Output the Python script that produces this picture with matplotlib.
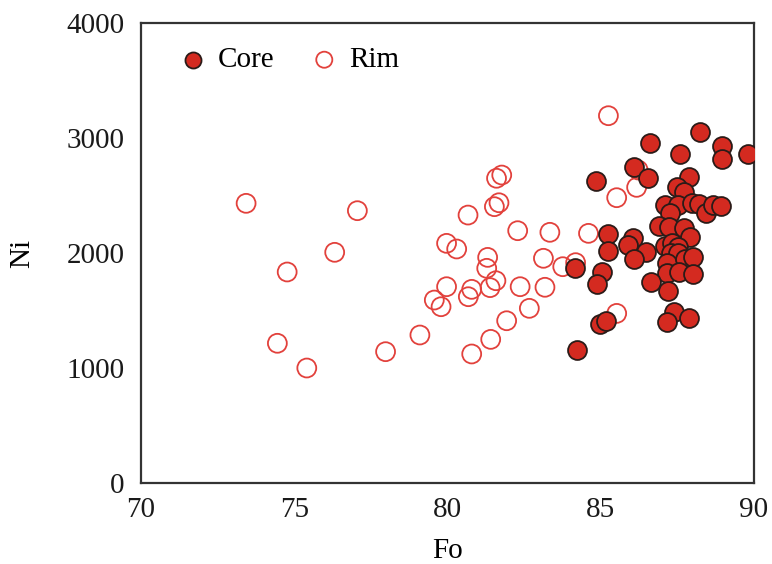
import matplotlib
matplotlib.use("Agg")
import matplotlib.pyplot as plt

plt.rcParams['font.family'] = ['Liberation Serif', 'DejaVu Serif']

# olivine cores (filled)
core_fo = [88.24, 86.61, 88.95, 88.95, 89.82, 87.57, 86.08, 86.55, 84.85, 87.88,
           87.48, 87.72, 87.10, 87.53, 87.97, 88.19, 88.43, 88.65, 88.92, 87.26,
           86.90, 87.24, 87.72, 87.91, 85.25, 86.04, 85.90, 85.25, 86.48, 87.10,
           87.32, 87.53, 87.29, 87.53, 86.08, 87.15, 87.75, 88.02, 87.15, 87.55,
           88.00, 84.16, 85.05, 84.87, 86.64, 87.20, 87.40, 87.17, 87.89, 84.98,
           85.17, 84.21]
core_ni = [3049, 2954, 2933, 2814, 2858, 2858, 2751, 2655, 2629, 2664,
           2577, 2533, 2417, 2417, 2432, 2426, 2345, 2417, 2409, 2351,
           2238, 2229, 2220, 2142, 2165, 2133, 2070, 2017, 2011, 2064,
           2090, 2055, 1997, 1997, 1945, 1910, 1945, 1963, 1823, 1838,
           1817, 1867, 1838, 1728, 1751, 1673, 1484, 1397, 1438, 1383,
           1409, 1157]

# olivine rims (open)
rim_fo = [73.43, 77.06, 76.32, 74.77, 74.45, 75.41, 77.98, 79.10, 81.60, 81.77,
          81.53, 81.68, 80.67, 82.29, 83.34, 84.60, 79.97, 80.30, 81.31, 81.28,
          83.13, 83.76, 84.18, 79.97, 79.57, 79.79, 80.79, 80.68, 81.58, 81.39,
          82.37, 83.18, 82.67, 81.93, 81.41, 80.79, 85.25, 86.22, 86.17, 85.52,
          85.52]
rim_ni = [2432, 2368, 2006, 1835, 1215, 1000, 1142, 1287, 2650, 2678,
          2403, 2437, 2330, 2194, 2180, 2171, 2084, 2035, 1962, 1867,
          1954, 1881, 1916, 1707, 1591, 1533, 1684, 1620, 1759, 1699,
          1707, 1702, 1519, 1411, 1249, 1122, 3194, 2722, 2571, 2481,
          1475]

fig = plt.figure(figsize=(7.72, 5.64), dpi=100)
ax = fig.add_axes([0.1826, 0.1436, 0.7941, 0.8156])

ax.scatter(rim_fo, rim_ni, s=185, facecolors='none', edgecolors='#e2413c',
           linewidths=1.3, label='Rim', zorder=2)
ax.scatter(core_fo, core_ni, s=185, facecolors='#d42a20', edgecolors='#2b1b18',
           linewidths=1.3, label='Core', zorder=3)

ax.set_xlim(70, 90)
ax.set_ylim(0, 4000)
ax.set_xticks([70, 75, 80, 85, 90])
ax.set_yticks([0, 1000, 2000, 3000, 4000])
ax.tick_params(length=0, labelsize=21, colors='#1a1a1a')
ax.tick_params(axis='x', pad=10)
ax.tick_params(axis='y', pad=12)
for sp in ax.spines.values():
    sp.set_linewidth(1.6)
    sp.set_color('#333333')

ax.set_xlabel('Fo', fontsize=21, labelpad=11)
ax.set_ylabel('Ni', fontsize=21, labelpad=22)

h, l = ax.get_legend_handles_labels()
leg = ax.legend(h[::-1], l[::-1], loc='upper left', ncol=2, frameon=False,
                fontsize=21, markerscale=0.85, handlelength=0.8,
                handletextpad=0.45, columnspacing=1.3,
                bbox_to_anchor=(0.0235, 1.005))

fig.savefig('out.png', dpi=100)
